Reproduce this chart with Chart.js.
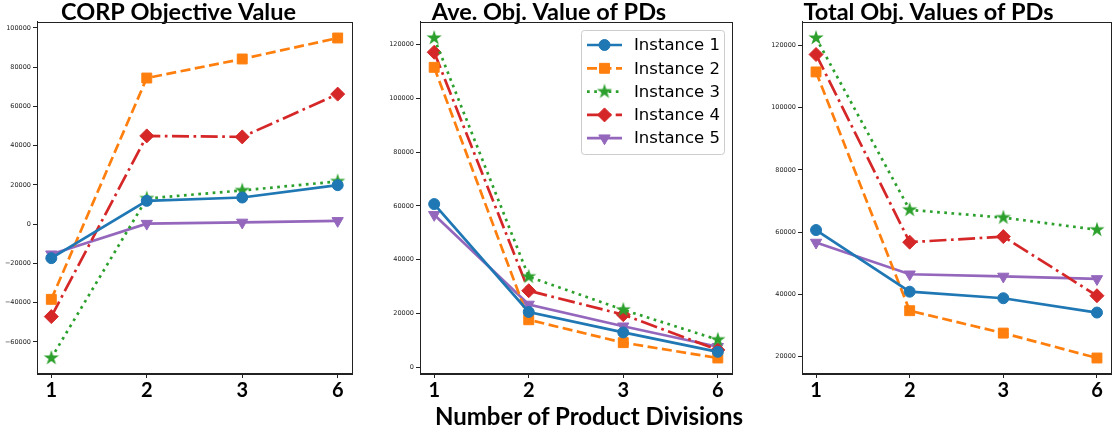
<!DOCTYPE html>
<html>
<head>
<meta charset="utf-8">
<script src="https://cdn.jsdelivr.net/npm/chart.js"></script>
<style>
  body { margin: 0; background: #fff; width: 1119px; height: 433px; position: relative; overflow: hidden; }
  canvas { position: absolute; top: 0; }
  #xlabel { position: absolute; left: 389px; top: 403px; width: 400px; text-align: center;
            font: bold 24px Lato, sans-serif; color: #000; line-height: 26px; }
</style>
</head>
<body>
<canvas id="corpChart" width="360" height="433" style="left:0px"></canvas>
<canvas id="aveChart" width="380" height="433" style="left:360px"></canvas>
<canvas id="totalChart" width="379" height="433" style="left:740px"></canvas>
<div id="xlabel">Number of Product Divisions</div>
<script>
// number of product divisions (x categories)
const categories = ['1', '2', '3', '6'];
const instanceNames = ['Instance 1', 'Instance 2', 'Instance 3', 'Instance 4', 'Instance 5'];

// one row per instance
const corpObjective = [
    [-17300, 11900, 13600, 19900],
    [-38300, 74500, 84200, 94900],
    [-68200, 13100, 17200, 21800],
    [-47100, 45000, 44500, 66300],
    [-15300, 300, 900, 1700]
];
const aveObjective = [
    [60700, 20600, 13000, 5800],
    [111500, 17700, 9200, 3500],
    [122400, 33700, 21400, 10300],
    [117100, 28500, 19600, 6500],
    [56700, 23400, 15300, 7700]
];
const totalObjective = [
    [60700, 40900, 38800, 34200],
    [111500, 34800, 27600, 19600],
    [122400, 67200, 64700, 60800],
    [117100, 56800, 58600, 39600],
    [56700, 46500, 45800, 45000]
];

// y tick labels of each panel
const corpTicks = [-60000, -40000, -20000, 0, 20000, 40000, 60000, 80000, 100000];
const aveTicks = [0, 20000, 40000, 60000, 80000, 100000, 120000];
const totalTicks = [20000, 40000, 60000, 80000, 100000, 120000];

const colors = ['#1f77b4', '#ff7f0e', '#2ca02c', '#d62728', '#9467bd'];
const dashes = [[], [10, 4.5], [2.7, 4.5], [17, 4.5, 2.7, 4.5], []];

function starCanvas(color, r) {
    const c = document.createElement('canvas');
    const s = Math.ceil(r * 2 + 2);
    c.width = c.height = s;
    const g = c.getContext('2d');
    g.beginPath();
    for (let k = 0; k < 10; k++) {
        const rr = k % 2 ? r * 0.382 : r;
        const ang = -Math.PI / 2 + k * Math.PI / 5;
        g.lineTo(s / 2 + rr * Math.cos(ang), s / 2 + rr * Math.sin(ang));
    }
    g.closePath();
    g.fillStyle = color;
    g.fill();
    return c;
}

const markers = [
    { style: 'circle', radius: 5.5, rotation: 0 },
    { style: 'rect', radius: 7, rotation: 0 },
    { style: starCanvas(colors[2], 8), radius: 7, rotation: 0 },
    { style: 'rectRot', radius: 7, rotation: 0 },
    { style: 'triangle', radius: 6.5, rotation: 180 }
];

// full box round the plot, like matplotlib spines
const framePlugin = {
    id: 'frame',
    afterDraw(chart) {
        const a = chart.chartArea, ctx = chart.ctx;
        ctx.save();
        ctx.strokeStyle = '#222';
        ctx.lineWidth = 1;
        ctx.strokeRect(Math.round(a.left) + 0.5, Math.round(a.top) + 0.5,
            Math.round(a.right - a.left), Math.round(a.bottom - a.top));
        ctx.restore();
    }
};

// legend inside the plot area, top right
const insideLegend = {
    id: 'insideLegend',
    afterDraw(chart) {
        const ctx = chart.ctx, a = chart.chartArea;
        const w = 143, h = 124;
        const x = a.right - 8 - w, y = a.top + 8;
        ctx.save();
        ctx.beginPath();
        if (ctx.roundRect) ctx.roundRect(x + 0.5, y + 0.5, w, h, 3); else ctx.rect(x + 0.5, y + 0.5, w, h);
        ctx.fillStyle = 'rgba(255,255,255,0.8)';
        ctx.fill();
        ctx.strokeStyle = '#cccccc';
        ctx.lineWidth = 1;
        ctx.stroke();
        chart.data.datasets.forEach((ds, i) => {
            const cy = y + 15 + i * 23.3;
            ctx.beginPath();
            ctx.strokeStyle = ds.borderColor;
            ctx.lineWidth = ds.borderWidth;
            ctx.setLineDash(ds.borderDash);
            ctx.moveTo(x + 6, cy);
            ctx.lineTo(x + 41, cy);
            ctx.stroke();
            ctx.setLineDash([]);
            ctx.fillStyle = ds.pointBackgroundColor;
            ctx.strokeStyle = ds.pointBorderColor;
            ctx.lineWidth = 1;
            Chart.helpers.drawPoint(ctx, {
                pointStyle: ds.pointStyle, radius: ds.pointRadius,
                rotation: ds.pointRotation, borderWidth: 1
            }, x + 23.5, cy);
            ctx.fillStyle = '#000';
            ctx.font = '16.5px "DejaVu Sans"';
            ctx.textBaseline = 'middle';
            ctx.textAlign = 'left';
            ctx.fillText(ds.label, x + 53, cy + 1);
        });
        ctx.restore();
    }
};

function fmt(v) {
    return v < 0 ? '\u2212' + Math.abs(v) : String(v);
}

function makeChart(id, title, rows, ticks, yWidth, padRight, legend) {
    const flat = rows.flat();
    const lo = Math.min(...flat), hi = Math.max(...flat);
    const m = (hi - lo) * 0.05;

    const datasets = rows.map((row, i) => ({
        label: instanceNames[i],
        data: row.map((v, k) => ({ x: k, y: v })),
        borderColor: colors[i],
        backgroundColor: colors[i],
        borderWidth: 2.7,
        borderDash: dashes[i],
        pointStyle: markers[i].style,
        pointRadius: markers[i].radius,
        pointRotation: markers[i].rotation,
        pointBackgroundColor: colors[i],
        pointBorderColor: colors[i],
        pointBorderWidth: 1,
        tension: 0,
        fill: false
    }));

    return new Chart(document.getElementById(id).getContext('2d'), {
        type: 'line',
        data: { datasets: datasets },
        options: {
            responsive: false,
            animation: false,
            layout: { padding: { left: 0, right: padRight, top: 0, bottom: 29 } },
            plugins: {
                legend: { display: false },
                tooltip: { enabled: false },
                title: {
                    display: true,
                    text: title,
                    color: '#000',
                    font: { family: 'Lato', size: 23.5, weight: 'bold', lineHeight: 0.851 },
                    padding: { top: 2, bottom: 0 }
                }
            },
            scales: {
                x: {
                    type: 'linear',
                    min: -0.15,
                    max: 3.15,
                    afterBuildTicks: s => { s.ticks = categories.map((c, i) => ({ value: i })); },
                    afterFit: s => { s.height = 30; },
                    ticks: {
                        callback: v => categories[v],
                        font: { family: 'Lato', size: 20, weight: 'bold' },
                        color: '#000',
                        padding: 1,
                        maxRotation: 0,
                        autoSkip: false
                    },
                    grid: { drawOnChartArea: false, tickLength: 4, color: '#222' },
                    border: { color: '#222', width: 1 }
                },
                y: {
                    min: lo - m,
                    max: hi + m,
                    afterBuildTicks: s => { s.ticks = ticks.map(v => ({ value: v })); },
                    afterFit: s => { s.width = yWidth; },
                    ticks: {
                        callback: v => fmt(v),
                        font: { family: 'DejaVu Sans', size: 6.5 },
                        color: '#222',
                        padding: 2,
                        autoSkip: false
                    },
                    grid: { drawOnChartArea: false, tickLength: 4, color: '#222' },
                    border: { color: '#222', width: 1 }
                }
            }
        },
        plugins: legend ? [framePlugin, insideLegend] : [framePlugin]
    });
}

makeChart('corpChart', 'CORP Objective Value', corpObjective, corpTicks, 37, 3, false);
makeChart('aveChart', 'Ave. Obj. Value of PDs', aveObjective, aveTicks, 60, 2, true);
makeChart('totalChart', 'Total Obj. Values of PDs', totalObjective, totalTicks, 62, 2, false);
</script>
</body>
</html>
